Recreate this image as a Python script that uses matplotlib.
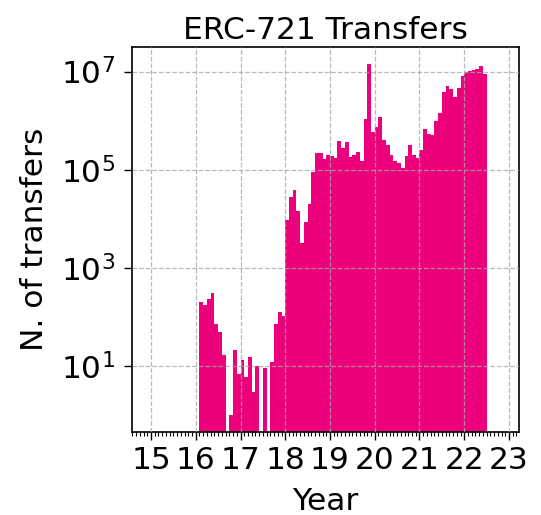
import numpy as np
import matplotlib
matplotlib.use("Agg")
import matplotlib.pyplot as plt

# Monthly ERC-721 transfer counts, starting Feb 2016 (0 = no transfers)
start_year = 2016
start_month = 2  # February
log_counts = [
    # 2016 Feb-Dec
    2.30, 2.24, 2.37, 2.49, 1.86, 1.69, 1.23, None, 0.01, 1.32, 0.86,
    # 2017
    1.12, 0.79, 1.18, 0.49, 1.01, None, 0.96, None, 1.08, 1.86, 2.10, 2.03,
    # 2018
    3.98, 4.45, 4.59, 4.16, 3.51, 3.94, 4.30, 4.95, 5.34, 5.34, 5.22, 5.31,
    # 2019
    5.28, 5.24, 5.58, 5.44, 5.56, 5.26, 5.31, 5.36, 5.18, 6.04, 7.15, 5.77,
    # 2020
    5.87, 6.08, 5.61, 5.51, 5.31, 5.17, 5.14, 5.03, 5.29, 5.51, 5.31, 5.24,
    # 2021
    5.41, 5.83, 5.73, 5.70, 6.00, 6.15, 6.58, 6.71, 6.64, 6.48, 6.67, 6.92,
    # 2022 Jan-Jun
    6.99, 7.01, 7.03, 7.05, 7.12, 6.96,
]
counts = [0 if v is None else round(10 ** v) for v in log_counts]

xtick_years = [15, 16, 17, 18, 19, 20, 21, 22, 23]
xtick_labels = [str(y) for y in xtick_years]
ytick_values = [1e1, 1e3, 1e5, 1e7]

n = len(counts)
months = np.arange(n) + (start_month - 1)
left_edges = (start_year - 2000) + months / 12.0

fig = plt.figure(figsize=(5.41, 5.15), dpi=100)
ax = fig.add_axes([0.244, 0.161, 0.715, 0.748])

heights = np.array(counts, dtype=float)
mask = heights > 0
ax.bar(left_edges[mask], heights[mask], width=1 / 12.0, align='edge',
       color='#ec007b', edgecolor='none', linewidth=0, zorder=1)

ax.set_yscale('log')
ax.set_ylim(0.45, 3.2e7)
ax.set_xlim(14.575, 23.22)

ax.set_yticks(ytick_values)
ax.yaxis.set_minor_locator(matplotlib.ticker.NullLocator())
ax.set_xticks(xtick_years)
ax.set_xticklabels(xtick_labels)
ax.set_xticks(np.arange(14.0 + 7 / 12, 23.25, 1 / 12.0), minor=True)

fs = 22.5
ax.tick_params(axis='both', which='major', labelsize=fs, length=6, width=1)
ax.tick_params(axis='x', which='minor', length=3, width=0.8)
ax.tick_params(axis='x', which='major', pad=4)
ax.tick_params(axis='y', which='major', pad=6)

ax.grid(True, which='major', linestyle='--', color='#a8a8a8', linewidth=0.9,
        alpha=0.8, zorder=3)
ax.set_axisbelow(False)

ax.set_title('ERC-721 Transfers', fontsize=fs, pad=6)
ax.set_xlabel('Year', fontsize=fs, labelpad=9)
ax.set_ylabel('N. of transfers', fontsize=fs, labelpad=9)

for s in ax.spines.values():
    s.set_linewidth(1.2)

fig.savefig('out.png', dpi=100)
